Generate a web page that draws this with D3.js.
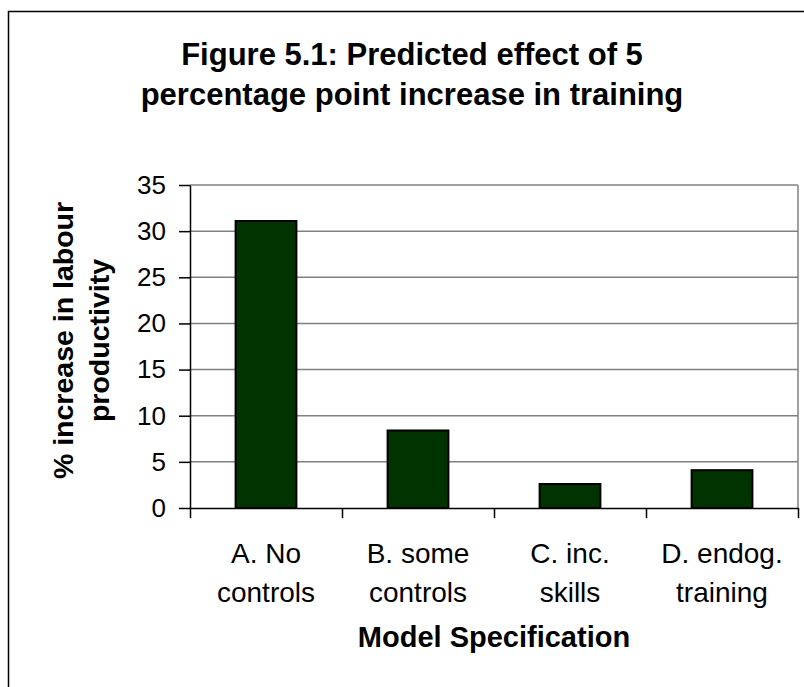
<!DOCTYPE html>
<html>
<head>
<meta charset="utf-8">
<script src="https://cdn.jsdelivr.net/npm/d3@7"></script>
<style>
	html, body { margin: 0; padding: 0; background: #fff; }
	svg { display: block; font-family: "Liberation Sans", Arial, sans-serif; }
	.grid line { stroke: #808080; stroke-width: 1.5; }
	.axis path, .axis line { stroke: #000; stroke-width: 1.5; }
	.axis text { fill: #000; }
</style>
</head>
<body>
<script>
// donnees
const categories = [["A. No", "controls"], ["B. some", "controls"], ["C. inc.", "skills"], ["D. endog.", "training"]];
const values = [31.1, 8.4, 2.6, 4.1];
const yTicks = [0, 5, 10, 15, 20, 25, 30, 35];
const titleLines = ["Figure 5.1: Predicted effect of 5", "percentage point increase in training"];
const yTitleLines = ["% increase in labour", "productivity"];
const xTitle = "Model Specification";

const width = 804, height = 687;
const plot = { left: 190, right: 798, top: 185, bottom: 508 };

const svg = d3.select("body")
	.append("svg")
	.attr("width", width)
	.attr("height", height);

// cadre du graphique
svg.append("rect")
	.attr("x", 8.5)
	.attr("y", 11.5)
	.attr("width", 820)
	.attr("height", 700)
	.attr("fill", "#fff")
	.attr("stroke", "#000")
	.attr("stroke-width", 1.5);

const x = d3.scaleBand()
	.domain(d3.range(categories.length))
	.range([plot.left, plot.right])
	.paddingInner(0.6)
	.paddingOuter(0.3);

const xEdge = d3.scaleLinear()
	.domain([0, categories.length])
	.range([plot.left, plot.right]);

const y = d3.scaleLinear()
	.domain([0, 35])
	.range([plot.bottom, plot.top]);

// grille horizontale
svg.append("g")
	.attr("class", "grid")
	.selectAll("line")
	.data(yTicks.filter(d => d > 0))
	.join("line")
	.attr("x1", plot.left)
	.attr("x2", plot.right)
	.attr("y1", d => y(d))
	.attr("y2", d => y(d));

// bord droit de la zone de tracé
svg.append("line")
	.attr("x1", plot.right)
	.attr("x2", plot.right)
	.attr("y1", plot.top)
	.attr("y2", plot.bottom)
	.attr("stroke", "#808080")
	.attr("stroke-width", 1.5);

// barres
svg.append("g")
	.selectAll("rect")
	.data(values)
	.join("rect")
	.attr("x", (d, i) => x(i))
	.attr("y", d => y(d))
	.attr("width", x.bandwidth())
	.attr("height", d => y(0) - y(d))
	.attr("fill", "#003300")
	.attr("stroke", "#000")
	.attr("stroke-width", 2);

// axe vertical
svg.append("g")
	.attr("class", "axis")
	.attr("transform", "translate(" + plot.left + ",0)")
	.call(d3.axisLeft(y).tickValues(yTicks).tickSize(11).tickSizeOuter(0).tickPadding(13))
	.call(g => g.selectAll("text").attr("font-size", 26));

// axe horizontal : graduations entre les catégories
svg.append("g")
	.attr("class", "axis")
	.attr("transform", "translate(0," + plot.bottom + ")")
	.call(d3.axisBottom(xEdge).ticks(categories.length).tickSize(10).tickSizeOuter(0).tickFormat(""));

// libellés des catégories
svg.append("g")
	.selectAll("text")
	.data(categories)
	.join("text")
	.attr("text-anchor", "middle")
	.attr("font-size", 28)
	.attr("x", (d, i) => x(i) + x.bandwidth() / 2)
	.attr("y", 563)
	.selectAll("tspan")
	.data(d => d)
	.join("tspan")
	.attr("x", function () { return this.parentNode.getAttribute("x"); })
	.attr("dy", (d, i) => i === 0 ? 0 : 39)
	.text(d => d);

// titre
svg.append("text")
	.attr("text-anchor", "middle")
	.attr("font-weight", "bold")
	.attr("font-size", 31)
	.attr("y", 65)
	.selectAll("tspan")
	.data(titleLines)
	.join("tspan")
	.attr("x", 412)
	.attr("dy", (d, i) => i === 0 ? 0 : 40)
	.text(d => d);

// titre de l'axe vertical
svg.append("text")
	.attr("text-anchor", "middle")
	.attr("font-weight", "bold")
	.attr("font-size", 28.5)
	.attr("transform", "translate(73," + ((plot.top + plot.bottom) / 2 - 6) + ") rotate(-90)")
	.selectAll("tspan")
	.data(yTitleLines)
	.join("tspan")
	.attr("x", 0)
	.attr("dy", (d, i) => i === 0 ? 0 : 36)
	.text(d => d);

// titre de l'axe horizontal
svg.append("text")
	.attr("text-anchor", "middle")
	.attr("font-weight", "bold")
	.attr("font-size", 29)
	.attr("x", (plot.left + plot.right) / 2)
	.attr("y", 647)
	.text(xTitle);
</script>
</body>
</html>
